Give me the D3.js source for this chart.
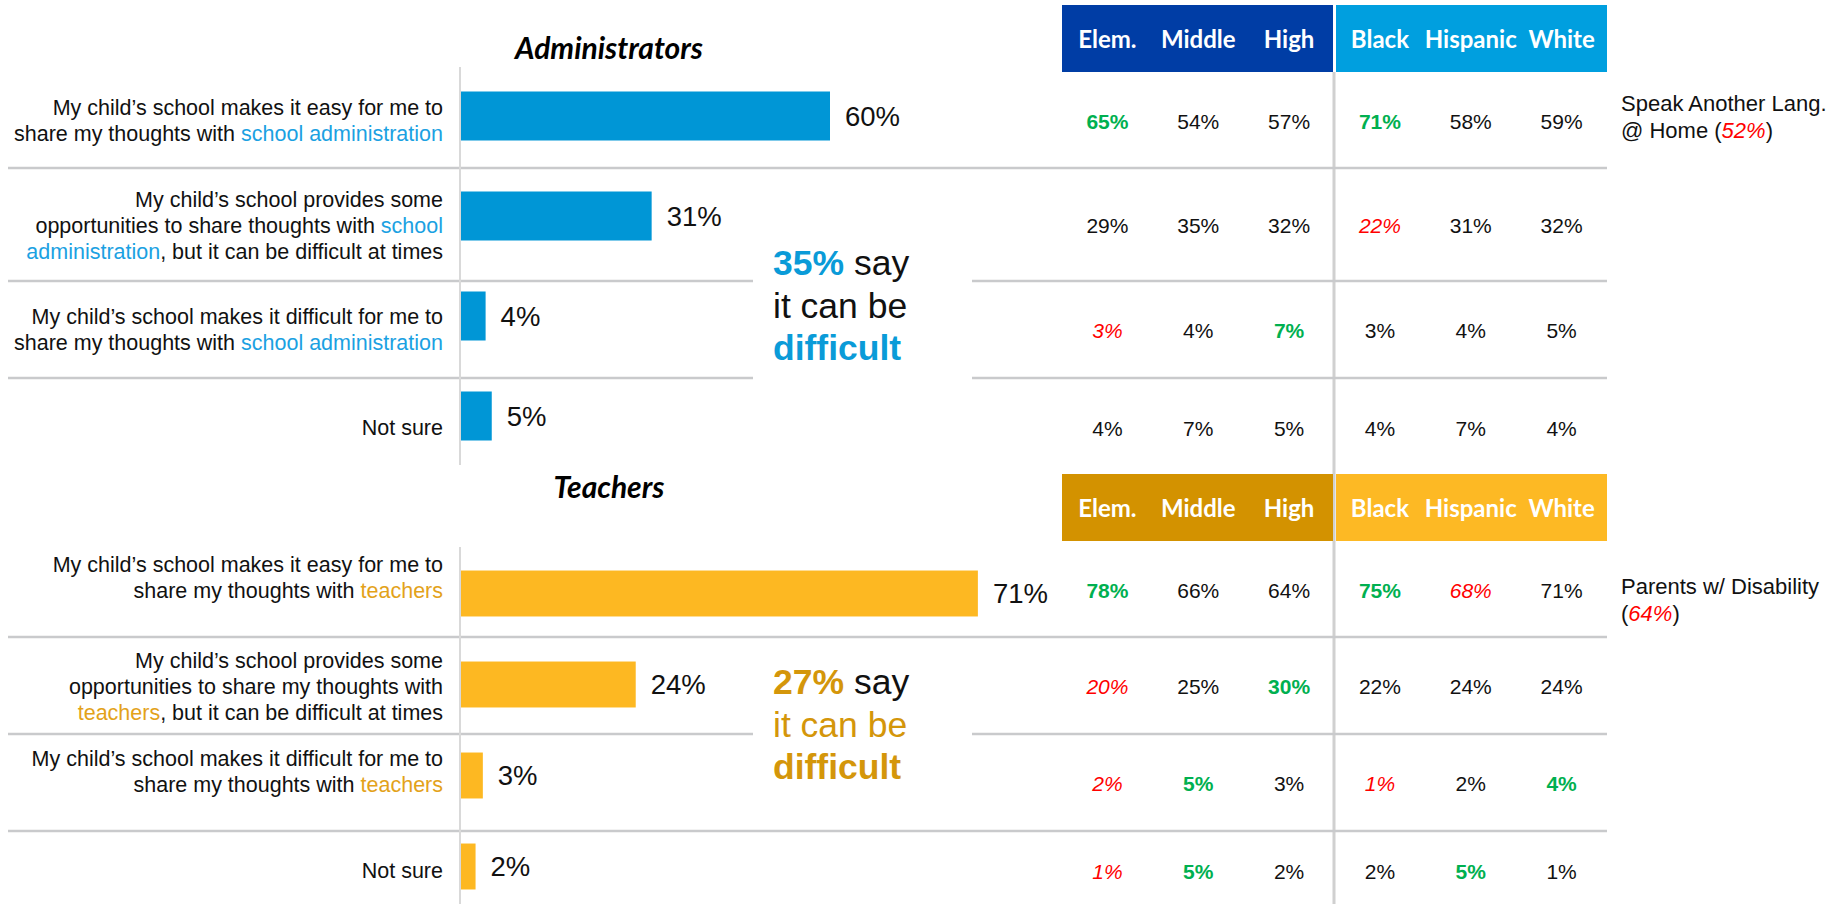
<!DOCTYPE html>
<html>
<head>
<meta charset="utf-8">
<script src="https://cdnjs.cloudflare.com/ajax/libs/d3/7.8.5/d3.min.js"></script>
<style>
  body { margin: 0; background: #fff; }
  svg { display: block; }
  .lbl { font-family: "Liberation Sans", Arial, sans-serif; font-size: 21.5px; fill: #111; }
  .note { font-family: "Liberation Sans", Arial, sans-serif; font-size: 22px; fill: #111; }
  .head { font-family: Lato, "Open Sans", sans-serif; font-weight: bold; font-size: 24px; fill: #fff; }
  .ttl { font-family: Lato, "Open Sans", sans-serif; font-weight: bold; font-style: italic; font-size: 30px; fill: #000; }
</style>
</head>
<body>
<div id="chart"></div>
<script>
// survey data

var columns = ["Elem.", "Middle", "High", "Black", "Hispanic", "White"];

// each label is a list of lines, each line a list of [text, highlighted]
var admLabels = [
  [[["My child’s school makes it easy for me to", 0]],
   [["share my thoughts with ", 0], ["school administration", 1]]],
  [[["My child’s school provides some", 0]],
   [["opportunities to share thoughts with ", 0], ["school", 1]],
   [["administration", 1], [", but it can be difficult at times", 0]]],
  [[["My child’s school makes it difficult for me to", 0]],
   [["share my thoughts with ", 0], ["school administration", 1]]],
  [[["Not sure", 0]]]
];
var tchLabels = [
  [[["My child’s school makes it easy for me to", 0]],
   [["share my thoughts with ", 0], ["teachers", 1]]],
  [[["My child’s school provides some", 0]],
   [["opportunities to share my thoughts with", 0]],
   [["teachers", 1], [", but it can be difficult at times", 0]]],
  [[["My child’s school makes it difficult for me to", 0]],
   [["share my thoughts with ", 0], ["teachers", 1]]],
  [[["Not sure", 0]]]
];

var admTotal = [60, 31, 4, 5];
var tchTotal = [71, 24, 3, 2];

var admTable = [
  [65, 54, 57, 71, 58, 59],
  [29, 35, 32, 22, 31, 32],
  [3, 4, 7, 3, 4, 5],
  [4, 7, 5, 4, 7, 4]
];
// g = notably higher (green bold), r = notably lower (red italic)
var admFlags = [
  ["g", "", "", "g", "", ""],
  ["", "", "", "r", "", ""],
  ["r", "", "g", "", "", ""],
  ["", "", "", "", "", ""]
];
var tchTable = [
  [78, 66, 64, 75, 68, 71],
  [20, 25, 30, 22, 24, 24],
  [2, 5, 3, 1, 2, 4],
  [1, 5, 2, 2, 5, 1]
];
var tchFlags = [
  ["g", "", "", "g", "r", ""],
  ["r", "", "g", "", "", ""],
  ["r", "g", "", "r", "", "g"],
  ["r", "g", "", "", "g", ""]
];

var admNote = [[["Speak Another Lang.", 0]], [["@ Home (", 0], ["52%", 1], [")", 0]]];
var tchNote = [[["Parents w/ Disability", 0]], [["(", 0], ["64%", 1], [")", 0]]];

var W = 1837, H = 904;
var GREEN = "#00B050", RED = "#FF0000", SEP = "#c9cacc";

var svg = d3.select("#chart").append("svg")
  .attr("width", W)
  .attr("height", H);

// table columns share one band scale for both panels
var col = d3.scaleBand().domain(columns).range([1062, 1607]);

var panels = [
  {
    title: "Administrators", titleY: 48,
    labels: admLabels, vals: admTotal, table: admTable, flags: admFlags, note: admNote,
    band: [66, 466], pad: 0.51, xRange: [461, 1076],
    axis: [67, 465], headTop: 5, rows: [72, 168, 281, 378, 476],
    nudge: [0, 1, 0, 0], noteY: 117,
    head: ["#003DA5", "#009FDF"], bar: "#0096D6", hl: "#1BA1E2",
    accent: "#0A9BD8", mid: "#111",
    box: [186, 383], calloutY: 263
  },
  {
    title: "Teachers", titleY: 487,
    labels: tchLabels, vals: tchTotal, table: tchTable, flags: tchFlags, note: tchNote,
    band: [548, 912], pad: 0.495, xRange: [461, 1189],
    axis: [547, 904], headTop: 474, rows: [541, 637, 734, 831, 909],
    nudge: [-12, 1, -11, 0], noteY: 600,
    head: ["#D39200", "#FDB924"], bar: "#FDB822", hl: "#E3A21A",
    accent: "#D4960A", mid: "#D4960A",
    box: [645, 800], calloutY: 682
  }
];

// write a line made of coloured pieces into a text element
function pieces(text, parts, hl, italicHl) {
  parts.forEach(function(p) {
    var t = text.append("tspan").text(p[0]);
    if (p[1]) {
      t.attr("fill", hl);
      if (italicHl) t.attr("font-style", "italic");
    }
  });
}

// table vertical divider goes behind everything
svg.append("line")
  .attr("x1", col("Black") - 0.5).attr("x2", col("Black") - 0.5)
  .attr("y1", 72).attr("y2", H)
  .attr("stroke", "#d0d0d0").attr("stroke-width", 3);

panels.forEach(function(p) {
  var g = svg.append("g");
  var idx = d3.range(p.vals.length);

  var y = d3.scaleBand().domain(idx).range(p.band)
    .paddingInner(p.pad).paddingOuter(p.pad / 2);
  var x = d3.scaleLinear().domain([0, 100]).range(p.xRange);
  var rowMid = function(i) { return (p.rows[i] + p.rows[i + 1]) / 2; };

  // row separators
  g.selectAll(".sep").data(p.rows.slice(1, -1)).enter().append("line")
    .attr("x1", 8).attr("x2", 1607)
    .attr("y1", function(d) { return d; }).attr("y2", function(d) { return d; })
    .attr("stroke", SEP).attr("stroke-width", 2.5);

  // category axis line
  g.append("line")
    .attr("x1", x(0) - 1).attr("x2", x(0) - 1)
    .attr("y1", p.axis[0]).attr("y2", p.axis[1])
    .attr("stroke", "#d9d9d9").attr("stroke-width", 2);

  g.append("text").attr("class", "ttl")
    .attr("x", 609).attr("y", p.titleY).attr("dy", "0.35em")
    .attr("text-anchor", "middle").text(p.title);

  // bars
  g.selectAll(".bar").data(p.vals).enter().append("rect")
    .attr("x", x(0))
    .attr("y", function(d, i) { return y(i); })
    .attr("width", function(d) { return x(d) - x(0); })
    .attr("height", y.bandwidth())
    .attr("fill", p.bar);

  g.selectAll(".val").data(p.vals).enter().append("text")
    .attr("x", function(d) { return x(d) + 15; })
    .attr("y", function(d, i) { return y(i) + y.bandwidth() / 2; })
    .attr("dy", "0.35em")
    .style("font-family", "'Liberation Sans', Arial, sans-serif")
    .style("font-size", "27.5px")
    .attr("fill", "#111")
    .text(function(d) { return d + "%"; });

  // category labels, right aligned
  p.labels.forEach(function(lines, i) {
    var cy = rowMid(i) + p.nudge[i];
    lines.forEach(function(line, j) {
      var t = g.append("text").attr("class", "lbl")
        .attr("x", 443)
        .attr("y", cy + (j - (lines.length - 1) / 2) * 26)
        .attr("dy", "0.35em")
        .attr("text-anchor", "end");
      pieces(t, line, p.hl, false);
    });
  });

  // callout box hides separators behind it
  var diff = p.vals[1] + p.vals[2];
  g.append("rect")
    .attr("x", 753).attr("y", p.box[0])
    .attr("width", 219).attr("height", p.box[1] - p.box[0])
    .attr("fill", "#fff");
  var cl = [
    [[diff + "%", p.accent, "bold"], [" say", "#111", "normal"]],
    [["it can be", p.mid, "normal"]],
    [["difficult", p.accent, "bold"]]
  ];
  cl.forEach(function(line, j) {
    var t = g.append("text")
      .attr("x", 773).attr("y", p.calloutY + j * 42.5).attr("dy", "0.35em")
      .style("font-family", "'Liberation Sans', Arial, sans-serif")
      .style("font-size", "35.5px");
    line.forEach(function(s) {
      t.append("tspan").text(s[0]).attr("fill", s[1]).attr("font-weight", s[2]);
    });
  });

  // header blocks
  var groups = [columns.slice(0, 3), columns.slice(3)];
  groups.forEach(function(gr, k) {
    var x0 = col(gr[0]) + (k ? 1.5 : 0);
    var x1 = col(gr[gr.length - 1]) + col.bandwidth() - (k ? 0 : 1.5);
    g.append("rect")
      .attr("x", x0).attr("y", p.headTop)
      .attr("width", x1 - x0).attr("height", p.rows[0] - p.headTop)
      .attr("fill", p.head[k]);
  });
  g.selectAll(".head").data(columns).enter().append("text")
    .attr("class", "head")
    .attr("x", function(d) { return col(d) + col.bandwidth() / 2; })
    .attr("y", (p.headTop + p.rows[0]) / 2 + 1)
    .attr("dy", "0.35em")
    .attr("text-anchor", "middle")
    .text(function(d) { return d; });

  // table cells
  p.table.forEach(function(row, i) {
    g.selectAll(null).data(row).enter().append("text")
      .attr("x", function(d, c) { return col(columns[c]) + col.bandwidth() / 2; })
      .attr("y", rowMid(i) + 1.5)
      .attr("dy", "0.35em")
      .attr("text-anchor", "middle")
      .style("font-family", "'Liberation Sans', Arial, sans-serif")
      .style("font-size", "21px")
      .attr("fill", function(d, c) {
        var f = p.flags[i][c];
        return f === "g" ? GREEN : f === "r" ? RED : "#111";
      })
      .attr("font-weight", function(d, c) { return p.flags[i][c] === "g" ? "bold" : "normal"; })
      .attr("font-style", function(d, c) { return p.flags[i][c] === "r" ? "italic" : "normal"; })
      .text(function(d) { return d + "%"; });
  });

  // side note
  p.note.forEach(function(line, j) {
    var t = g.append("text").attr("class", "note")
      .attr("x", 1621)
      .attr("y", p.noteY + (j - 0.5) * 26.5)
      .attr("dy", "0.35em");
    pieces(t, line, RED, true);
  });
});
</script>
</body>
</html>
